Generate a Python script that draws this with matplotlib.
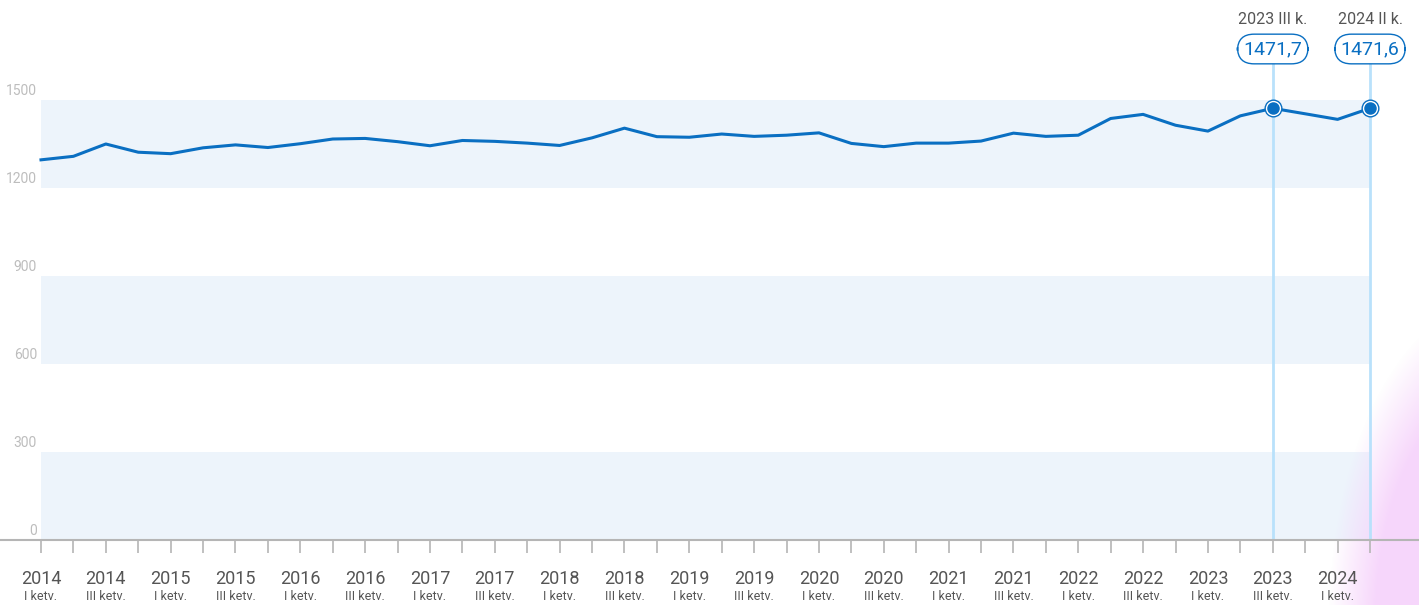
import numpy as np
import matplotlib.pyplot as plt
from matplotlib.transforms import blended_transform_factory

# quarterly values, 2014 I ketv. .. 2024 II ketv.
years = [2014 + i // 4 for i in range(42)]
quarters = ["I", "II", "III", "IV"] * 11
quarters = quarters[:42]
values = [1296, 1308, 1350, 1322, 1317, 1337, 1347, 1338, 1351, 1367,
          1369, 1358, 1344, 1362, 1359, 1353, 1345, 1371, 1404, 1375,
          1373, 1384, 1376, 1380, 1388, 1352, 1341, 1353, 1353, 1360,
          1387, 1376, 1380, 1437, 1451, 1414, 1394, 1446, 1471.7, 1453,
          1434, 1471.6]
highlight_idx = [38, 41]
highlight_labels = ["2023 III k.", "2024 II k."]
highlight_values = ["1471,7", "1471,6"]
yticks = [0, 300, 600, 900, 1200, 1500]
bands = [(0, 300), (600, 900), (1200, 1500)]

line_c = "#0a6fc2"
band_c = "#edf4fb"
grey = "#555555"

W, H = 1419, 605
fig = plt.figure(figsize=(W / 100, H / 100), dpi=100)

py = 88.0 / 300  # pixels per unit
s = (1370 - 41) / 41.0
ax = fig.add_axes([0, (H - 540) / H, 1, 540 / H])
ax.patch.set_alpha(0)
n = len(values)
x = np.arange(n)
x0, x1 = -41 / s, (n - 1) + (W - 1370) / s
y0, y1 = 0, 540 / py
ax.set_xlim(x0, x1)
ax.set_ylim(y0, y1)

for lo, hi in bands:
    ax.fill_between([0, n - 1], lo, hi, color=band_c, lw=0, zorder=0)

# pink glow in the bottom right corner, over the bands
gx, gy = np.meshgrid(np.arange(W), np.arange(H))
d = np.sqrt(((gx - 1500) / 156.0) ** 2 + ((gy - 620) / 293.0) ** 2)
img = np.zeros((H, W, 4))
img[..., 0] = 0xf6 / 255
img[..., 1] = 0xd4 / 255
img[..., 2] = 0xfb / 255
img[..., 3] = np.clip((1.1 - d) / 0.3, 0, 1) * 0.95
ax.imshow(img, extent=[x0, x1, (540 - H) / py, 540 / py], origin="upper",
          aspect="auto", zorder=0.5, clip_on=False)
ax.set_xlim(x0, x1)
ax.set_ylim(y0, y1)

for t in yticks:
    ax.text(-4 / s, t + 2 / py, str(t), ha="right", va="bottom",
            fontsize=10, color="#bdbdbd", family="Roboto")

for i in highlight_idx:
    ax.plot([i, i], [0, 1640], color="#b9e1fb", lw=2, zorder=1)

ax.plot(x, values, color=line_c, lw=2.2, zorder=3)

for i, lab, val in zip(highlight_idx, highlight_labels, highlight_values):
    ax.plot(i, values[i], "o", ms=12, mfc="white", mec=line_c, mew=1, zorder=4)
    ax.plot(i, values[i], "o", ms=9, mfc=line_c, mec=line_c, mew=0, zorder=5)
    ax.text(i, (540 - 49) / py, val, ha="center", va="center", fontsize=14,
            color=line_c, family="Roboto", zorder=6,
            bbox=dict(boxstyle="round,pad=0.3,rounding_size=0.85", fc="white",
                      ec=line_c, lw=1))
    ax.text(i, (540 - 20) / py, lab, ha="center", va="center", fontsize=11.5,
            color=grey, family="Roboto")

for sp in ["top", "right", "left"]:
    ax.spines[sp].set_visible(False)
ax.spines["bottom"].set_color("#b5b5b5")
ax.spines["bottom"].set_linewidth(1.5)
ax.set_yticks([])
ax.set_xticks(x)
ax.set_xticklabels([])
ax.tick_params(axis="x", length=9.5, width=1.2, color="#b5b5b5")

tr = blended_transform_factory(ax.transData, ax.transAxes)
for i in range(0, n, 2):
    ax.text(i, -39 / 540, str(years[i]), transform=tr, ha="center", va="center",
            fontsize=13, color=grey, family="Roboto")
    ax.text(i, -57 / 540, quarters[i] + " ketv.", transform=tr, ha="center",
            va="center", fontsize=9, color=grey, family="Roboto")

fig.savefig("out.png", dpi=100)
